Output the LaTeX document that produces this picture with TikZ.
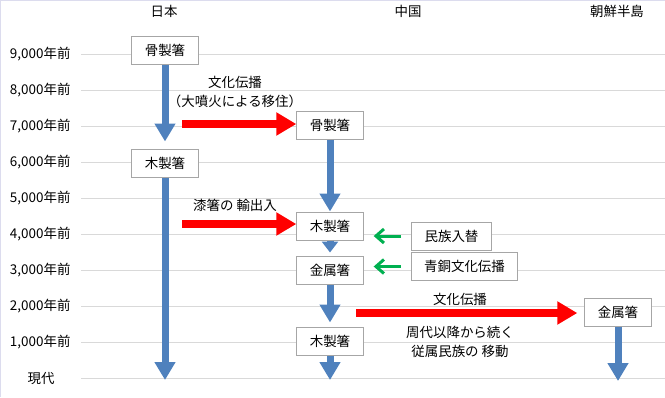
\documentclass[tikz,border=0pt]{standalone}
\usepackage{fontspec}
\setmainfont{Noto Sans CJK JP}
\usepackage{tikz}
\usetikzlibrary{
  arrows.meta,
  positioning,
}
\definecolor{flowblue}{HTML}{4F81BD}
\definecolor{moveRed}{HTML}{FF0000}
\definecolor{swapgreen}{HTML}{00B050}
\definecolor{gridgray}{HTML}{D9D9D9}
\definecolor{boxgray}{HTML}{A6A6A6}
\definecolor{framelav}{HTML}{DCDCEE}

\begin{document}
\begin{tikzpicture}[x=1bp, y=-1bp,
    every node/.style={font=\fontsize{13.5}{19}\selectfont},
    chopbox/.style={draw=boxgray, fill=white, line width=1bp,
                    minimum width=64bp, minimum height=28bp, inner xsep=13bp},
    eraline/.style={draw=gridgray, line width=1bp},
    blueflow/.style={draw=flowblue, line width=7bp,
                     -{Triangle[width=20bp,length=18bp]}},
    redflow/.style={draw=moveRed, line width=8bp,
                    -{Triangle[width=22bp,length=20bp]}},
    greenflow/.style={draw=swapgreen, line width=3bp,
                      -{Straight Barb[width=14bp,length=8bp]},
                      shorten <=10bp, shorten >=10bp},
    lbl/.style={align=center},
  ]
  \useasboundingbox (0,0) rectangle (665,397);
  \draw[framelav, line width=2bp] (0,397) -- (0,0) -- (665,0);

  % time axis
  \foreach \k/\lab in {0/9,1/8,2/7,3/6,4/5,5/4,6/3,7/2,8/1} {
    \draw[eraline] (81,54+36*\k) -- (665,54+36*\k);
    \node[anchor=east] (era\lab) at (74,54+36*\k) {\lab,000年前};
  }
  \draw[eraline] (81,378) -- (665,378);
  \node (eranow) at (41,378) {現代};

  % regions
  \node (japan) at (164,11) {日本};
  \node (china) at (408,11) {中国};
  \node (korea) at (617,11) {朝鮮半島};

  % chopsticks
  \node[chopbox] (jbone)  at (165,50)  {骨製箸};
  \node[chopbox] (jwood)  at (165,163) {木製箸};
  \node[chopbox] (cbone)  at (330,125) {骨製箸};
  \node[chopbox] (cwood1) at (330,226) {木製箸};
  \node[chopbox] (cmetal) at (330,270) {金属箸};
  \node[chopbox] (cwood2) at (330,341) {木製箸};
  \node[chopbox] (kmetal) at (618,312) {金属箸};
  \node[chopbox] (swap)   at (451.5,236) {民族入替};
  \node[chopbox] (bronze) at (464.5,266.5) {青銅文化伝播};

  \coordinate (jend) at (165,380);
  \coordinate (cend) at (330,380);
  \coordinate (kend) at (618,381);

  % lineage
  \draw[blueflow, shorten >=7bp] (jbone) -- (jwood);
  \draw[blueflow] (jwood) -- (jend);
  \draw[blueflow] (cbone) -- (cwood1);
  \draw[blueflow, -{Triangle[width=16bp,length=11bp]}, shorten >=3bp] (cwood1) -- (cmetal);
  \draw[blueflow, shorten >=4bp] (cmetal) -- (cwood2);
  \draw[blueflow] (cwood2) -- (cend);
  \draw[blueflow] (kmetal) -- (kend);

  % transmission
  \coordinate (rs1) at (182,124);
  \coordinate (rs2) at (182,224);
  \coordinate (rs3) at (356,313);
  \draw[redflow] (rs1) -- (rs1 -| cbone.west);
  \draw[redflow] (rs2) -- (rs2 -| cwood1.west);
  \draw[redflow, shorten >=7bp] (rs3) -- (rs3 -| kmetal.west);
  \node[lbl] (spread1) at (235,92) {文化伝播\\（大噴火による移住）};
  \node[lbl] (lacquer) at (235,205) {漆箸の 輸出入};
  \node[lbl] (spread2) at (460,299) {文化伝播};
  \node[lbl] (vassal)  at (460,342) {周代以降から続く\\従属民族の 移動};

  \draw[greenflow] (swap.west) -- (swap.west -| cwood1.east);
  \draw[greenflow] (bronze.west) -- (bronze.west -| cmetal.east);
\end{tikzpicture}
\end{document}
